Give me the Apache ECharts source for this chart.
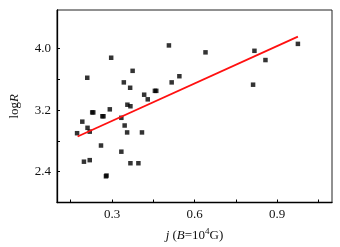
<!DOCTYPE html>
<html>
<head>
<meta charset="utf-8">
<script src="https://cdn.jsdelivr.net/npm/echarts@6/dist/echarts.min.js"></script>
<style>
  html,body{margin:0;padding:0;background:#fff;}
  #main{width:340px;height:247px;}
</style>
</head>
<body>
<div id="main"></div>
<script>
// 散点数据 j 与 logR
const jVals = [0.173, 0.192, 0.198, 0.210, 0.211, 0.219, 0.219, 0.228, 0.232, 0.260, 0.265, 0.269,
  0.278, 0.280, 0.292, 0.297, 0.334, 0.334, 0.343, 0.346, 0.355, 0.356, 0.367, 0.366, 0.367,
  0.375, 0.396, 0.409, 0.417, 0.430, 0.456, 0.461, 0.507, 0.517, 0.545, 0.640, 0.813, 0.818,
  0.858, 0.976]
const logRVals = [2.90, 3.05, 2.53, 3.62, 2.97, 2.92, 2.55, 3.17, 3.17, 2.74, 3.12, 3.12,
  2.34, 2.35, 3.21, 3.88, 3.10, 2.66, 3.56, 3.00, 2.91, 3.27, 3.25, 3.49, 2.51,
  3.71, 2.51, 2.91, 3.40, 3.34, 3.45, 3.45, 4.04, 3.56, 3.64, 3.95, 3.53, 3.97,
  3.85, 4.06]
// 拟合直线两端
const fitJ = [0.175, 0.976]
const fitLogR = [2.857, 4.154]
// 刻度
const xTickVals = [0.15, 0.3, 0.45, 0.6, 0.75, 0.9, 1.05]
const xLabelVals = [0.3, 0.6, 0.9]
const yTickVals = [2.4, 2.8, 3.2, 3.6, 4.0]
const yLabelVals = [2.4, 3.2, 4.0]

let myChart = echarts.init(document.getElementById('main'))
const font = 'Liberation Serif'

var option = {
  animation: false,
  grid: {
    left: 55, right: 8, top: 10, bottom: 42,
    show: true, borderColor: '#222', borderWidth: 1, backgroundColor: 'transparent'
  },
  xAxis: {
    type: 'value', min: 0.1, max: 1.1,
    splitLine: { show: false },
    axisLine: { show: true, onZero: false, lineStyle: { color: '#000', width: 1.3 } },
    axisTick: { show: true, inside: true, length: 3, customValues: xTickVals, lineStyle: { color: '#000' } },
    axisLabel: {
      customValues: xLabelVals, margin: 6, color: '#111', fontFamily: font, fontSize: 13,
      formatter: v => v.toFixed(1)
    },
    name: '{i|j} ({i|B}=10{sup|4}G)',
    nameLocation: 'middle', nameGap: 25,
    nameTextStyle: {
      color: '#111', fontFamily: font, fontSize: 13,
      rich: {
        i: { fontStyle: 'italic', fontFamily: font, fontSize: 13, color: '#111' },
        sup: { fontFamily: font, fontSize: 9, color: '#111', padding: [0, 0, 7, 0] }
      }
    }
  },
  yAxis: {
    type: 'value', min: 2.0, max: 4.5,
    splitLine: { show: false },
    axisLine: { show: true, onZero: false, lineStyle: { color: '#000', width: 1.3 } },
    axisTick: { show: true, inside: true, length: 3, customValues: yTickVals, lineStyle: { color: '#000' } },
    axisLabel: {
      customValues: yLabelVals, margin: 6, color: '#111', fontFamily: font, fontSize: 13,
      formatter: v => v.toFixed(1)
    },
    name: '{n|log}{i|R}',
    nameLocation: 'middle', nameGap: 36, nameRotate: 90,
    nameTextStyle: {
      color: '#111', fontFamily: font, fontSize: 13,
      rich: {
        n: { fontFamily: font, fontSize: 13, color: '#111' },
        i: { fontStyle: 'italic', fontFamily: font, fontSize: 13, color: '#111' }
      }
    }
  },
  series: [
    {
      type: 'scatter',
      symbol: 'rect',
      symbolSize: 4.5,
      itemStyle: { color: '#000' },
      data: jVals.map((j, i) => [j, logRVals[i]])
    },
    {
      type: 'line',
      symbol: 'none',
      lineStyle: { color: '#ff1010', width: 1.8 },
      data: fitJ.map((j, i) => [j, fitLogR[i]])
    }
  ]
}
myChart.setOption(option)
</script>
</body>
</html>
